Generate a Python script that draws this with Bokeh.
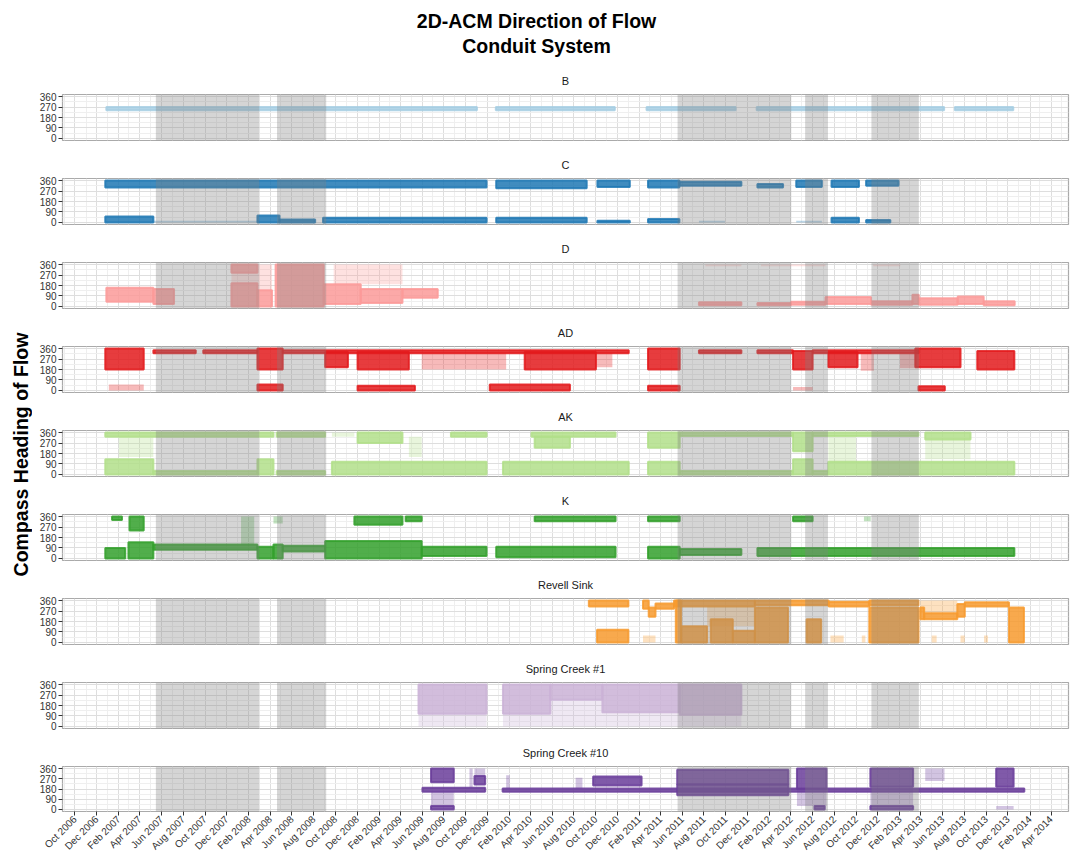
import math
import pandas as pd
from bokeh.plotting import figure
from bokeh.layouts import column, row
from bokeh.models import (ColumnDataSource, FixedTicker, DatetimeTickFormatter,
                          BoxAnnotation, Range1d)
from bokeh.core.properties import value
from bokeh.embed import file_html
from bokeh.resources import INLINE

# ---------------- text ----------------
TITLE_LINES = ["2D-ACM Direction of Flow", "Conduit System"]
Y_LABEL = "Compass Heading of Flow"

# ---------------- axes ----------------
HEADING_TICKS = [0, 90, 180, 270, 360]
HEADING_MINOR = [45, 135, 225, 315]
X_START, X_END = "2006-08-27", "2014-05-20"
Y_START, Y_END = -18, 378
TICK_DATES = pd.date_range("2006-10-01", "2014-04-01", freq="2MS")
MINOR_DATES = [d for d in pd.date_range("2006-09-01", "2014-05-01", freq="MS") if d not in set(TICK_DATES)]

# ---------------- shaded periods ----------------
DRY_START = ["2007-05-16", "2008-04-20", "2011-05-19", "2012-05-11", "2012-11-13"]
DRY_END = ["2008-03-01", "2008-09-05", "2012-04-02", "2012-07-14", "2013-03-26"]

# ---------------- series: (start, end, low heading, high heading) ----------------
B_DENSE = [
    ("2006-12-28", "2009-11-02", 242, 270),
    ("2009-12-25", "2010-11-24", 242, 270),
    ("2011-02-21", "2011-10-29", 242, 270),
    ("2011-12-27", "2013-06-05", 242, 270),
    ("2013-07-05", "2013-12-16", 242, 270),
]
B_SPARSE = []

C_DENSE = [
    ("2006-12-25", "2009-11-29", 300, 360),
    ("2009-12-26", "2010-09-06", 295, 360),
    ("2010-10-06", "2011-01-05", 305, 360),
    ("2011-02-25", "2011-05-24", 300, 360),
    ("2011-05-24", "2011-11-14", 315, 350),
    ("2011-12-29", "2012-03-10", 300, 330),
    ("2012-04-16", "2012-06-27", 305, 360),
    ("2012-07-24", "2012-10-09", 305, 360),
    ("2012-10-29", "2013-01-28", 315, 360),
    ("2006-12-25", "2007-05-09", 0, 50),
    ("2008-02-25", "2008-04-27", 0, 60),
    ("2008-04-27", "2008-08-05", 0, 25),
    ("2008-08-27", "2009-11-29", 0, 40),
    ("2009-12-26", "2010-09-06", 0, 40),
    ("2010-10-06", "2011-01-05", 0, 15),
    ("2011-02-25", "2011-05-24", 0, 30),
    ("2012-07-24", "2012-10-09", 0, 40),
    ("2012-10-29", "2013-01-05", 0, 20),
]
C_SPARSE = [
    ("2007-05-09", "2008-02-25", 0, 15),
    ("2011-07-18", "2011-09-29", 0, 15),
    ("2012-04-16", "2012-06-27", 0, 15),
]

D_DENSE = [
    ("2006-12-28", "2007-05-09", 40, 160),
    ("2007-05-09", "2007-07-06", 20, 150),
    ("2007-12-14", "2008-02-25", 0, 200),
    ("2007-12-14", "2008-02-25", 290, 360),
    ("2008-02-25", "2008-04-06", 0, 140),
    ("2008-04-16", "2008-08-29", 0, 360),
    ("2008-08-29", "2008-12-11", 20, 190),
    ("2008-12-11", "2009-04-07", 30, 150),
    ("2009-04-07", "2009-07-15", 75, 150),
    ("2011-07-18", "2011-11-14", 10, 35),
    ("2011-12-29", "2012-04-01", 10, 30),
    ("2012-04-01", "2012-07-07", 15, 40),
    ("2012-07-07", "2012-11-12", 20, 80),
    ("2012-11-12", "2013-03-08", 15, 45),
    ("2013-03-08", "2013-03-26", 20, 100),
    ("2013-03-26", "2013-07-13", 15, 70),
    ("2013-07-13", "2013-09-24", 20, 85),
    ("2013-09-24", "2013-12-20", 10, 45),
]
D_SPARSE = [
    ("2007-12-14", "2008-02-25", 200, 290),
    ("2008-02-25", "2008-04-06", 140, 360),
    ("2008-09-26", "2009-04-07", 190, 360),
    ("2011-08-05", "2011-11-14", 345, 360),
    ("2012-01-08", "2012-07-07", 345, 360),
    ("2012-11-18", "2013-02-02", 345, 360),
]

AD_DENSE = [
    ("2006-12-25", "2007-04-12", 180, 360),
    ("2007-05-09", "2007-09-05", 320, 345),
    ("2007-09-26", "2008-02-25", 320, 345),
    ("2008-02-25", "2008-05-06", 180, 360),
    ("2008-05-06", "2011-01-02", 320, 345),
    ("2008-09-02", "2008-11-05", 200, 330),
    ("2008-12-02", "2009-04-25", 180, 330),
    ("2010-03-16", "2010-10-02", 180, 330),
    ("2011-02-25", "2011-05-25", 180, 360),
    ("2011-07-18", "2011-11-14", 320, 345),
    ("2011-12-29", "2012-04-07", 320, 345),
    ("2012-04-07", "2012-06-01", 180, 340),
    ("2012-06-01", "2013-03-25", 320, 345),
    ("2012-07-15", "2012-10-05", 200, 330),
    ("2013-03-16", "2013-07-21", 200, 360),
    ("2013-09-06", "2013-12-19", 180, 340),
    ("2008-02-25", "2008-05-06", 0, 50),
    ("2008-12-02", "2009-05-12", 0, 40),
    ("2009-12-08", "2010-07-21", 0, 50),
    ("2011-02-25", "2011-05-25", 0, 40),
    ("2013-03-25", "2013-06-07", 0, 35),
]
AD_SPARSE = [
    ("2007-01-04", "2007-04-12", 0, 50),
    ("2009-05-31", "2010-01-23", 180, 320),
    ("2010-10-02", "2010-11-17", 200, 320),
    ("2012-10-14", "2012-11-20", 170, 320),
    ("2013-02-01", "2013-03-25", 190, 320),
    ("2012-04-07", "2012-06-01", 0, 30),
]

AK_DENSE = [
    ("2006-12-25", "2008-04-10", 325, 360),
    ("2008-04-19", "2008-09-02", 325, 360),
    ("2008-12-02", "2009-04-07", 270, 360),
    ("2009-08-21", "2009-11-29", 325, 360),
    ("2010-04-04", "2010-11-26", 325, 360),
    ("2010-04-13", "2010-07-21", 230, 325),
    ("2011-02-25", "2011-05-25", 230, 360),
    ("2011-05-25", "2012-04-07", 330, 360),
    ("2012-04-07", "2012-06-01", 200, 360),
    ("2012-06-01", "2013-03-25", 330, 360),
    ("2013-04-13", "2013-08-18", 300, 360),
    ("2006-12-25", "2007-05-09", 0, 130),
    ("2007-05-09", "2008-02-25", 0, 30),
    ("2008-02-25", "2008-04-10", 0, 130),
    ("2008-04-19", "2008-09-02", 0, 30),
    ("2008-09-21", "2009-11-29", 0, 110),
    ("2010-01-14", "2011-01-02", 0, 110),
    ("2011-02-25", "2011-05-25", 0, 110),
    ("2011-05-25", "2012-04-07", 0, 30),
    ("2012-04-07", "2012-06-01", 0, 130),
    ("2012-06-01", "2012-07-15", 0, 30),
    ("2012-07-15", "2013-12-19", 0, 110),
]
AK_SPARSE = [
    ("2007-02-01", "2007-05-09", 150, 325),
    ("2008-09-21", "2008-11-23", 325, 360),
    ("2009-04-25", "2009-05-31", 150, 325),
    ("2013-04-13", "2013-08-18", 130, 300),
    ("2012-07-15", "2012-10-01", 110, 330),
]

K_DENSE = [
    ("2006-12-25", "2007-02-19", 0, 90),
    ("2007-01-13", "2007-02-10", 330, 360),
    ("2007-02-28", "2007-05-09", 0, 140),
    ("2007-03-03", "2007-04-12", 240, 360),
    ("2007-05-09", "2008-02-25", 75, 120),
    ("2008-02-25", "2008-04-10", 0, 100),
    ("2008-04-10", "2008-05-06", 0, 120),
    ("2008-05-06", "2008-09-02", 60, 110),
    ("2008-09-02", "2009-05-31", 0, 150),
    ("2008-11-23", "2009-04-07", 290, 360),
    ("2009-04-16", "2009-05-31", 320, 360),
    ("2009-05-31", "2009-11-29", 20, 100),
    ("2009-12-26", "2010-11-26", 10, 100),
    ("2010-04-13", "2010-11-26", 320, 360),
    ("2011-02-25", "2011-05-25", 0, 100),
    ("2011-02-25", "2011-05-25", 320, 360),
    ("2011-05-25", "2011-11-14", 30, 80),
    ("2011-12-29", "2013-12-19", 20, 90),
    ("2012-04-07", "2012-06-01", 320, 360),
]
K_SPARSE = [
    ("2008-01-10", "2008-02-16", 120, 360),
    ("2008-04-10", "2008-05-06", 300, 360),
    ("2012-10-23", "2012-11-11", 320, 360),
]

REVELL_DENSE = [
    ("2010-09-12", "2011-01-01", 310, 360),
    ("2010-10-05", "2011-01-01", 0, 110),
    ("2011-02-11", "2011-02-27", 290, 360),
    ("2011-02-27", "2011-03-18", 220, 300),
    ("2011-03-18", "2011-05-09", 290, 335),
    ("2011-05-09", "2011-12-22", 310, 360),
    ("2011-05-14", "2011-05-29", 0, 360),
    ("2011-05-29", "2011-08-10", 0, 140),
    ("2011-08-20", "2011-10-21", 0, 200),
    ("2011-10-21", "2011-12-22", 0, 100),
    ("2011-12-22", "2012-03-24", 0, 300),
    ("2011-12-22", "2012-07-16", 320, 360),
    ("2012-05-15", "2012-06-25", 0, 200),
    ("2012-07-16", "2012-11-07", 310, 350),
    ("2012-11-07", "2013-03-25", 0, 300),
    ("2012-11-07", "2013-03-25", 320, 360),
    ("2013-03-30", "2013-04-10", 200, 300),
    ("2013-04-10", "2013-07-12", 200, 250),
    ("2013-07-12", "2013-08-02", 220, 330),
    ("2013-08-02", "2013-12-04", 310, 345),
    ("2013-12-04", "2014-01-15", 0, 300),
]
REVELL_SPARSE = [
    ("2011-02-11", "2011-03-18", 0, 60),
    ("2011-08-10", "2011-12-22", 140, 310),
    ("2012-07-21", "2012-08-27", 0, 60),
    ("2012-10-17", "2012-10-27", 0, 60),
    ("2013-03-30", "2013-07-12", 250, 360),
    ("2013-05-01", "2013-05-15", 0, 60),
    ("2013-07-21", "2013-08-02", 0, 60),
    ("2013-09-25", "2013-10-06", 0, 60),
]

SC1_DENSE = [
    ("2009-05-22", "2009-11-29", 110, 360),
    ("2010-01-14", "2010-05-27", 110, 360),
    ("2010-05-27", "2010-10-20", 230, 360),
    ("2010-10-20", "2011-05-25", 120, 360),
    ("2011-05-25", "2011-11-14", 100, 360),
]
SC1_SPARSE = [
    ("2009-05-22", "2009-11-29", 0, 110),
    ("2010-01-14", "2010-05-27", 0, 110),
    ("2010-05-27", "2010-10-20", 0, 230),
    ("2010-10-20", "2011-11-14", 0, 110),
]

SC10_DENSE = [
    ("2009-06-02", "2009-11-25", 155, 190),
    ("2009-06-26", "2009-08-29", 240, 360),
    ("2009-06-26", "2009-08-29", 0, 30),
    ("2009-10-26", "2009-11-25", 220, 295),
    ("2010-01-13", "2014-01-16", 155, 185),
    ("2010-09-24", "2011-02-07", 210, 290),
    ("2011-05-18", "2012-03-25", 220, 350),
    ("2011-05-18", "2012-03-25", 125, 220),
    ("2012-04-18", "2012-07-10", 180, 360),
    ("2012-06-06", "2012-07-05", 0, 30),
    ("2012-11-10", "2013-03-10", 200, 360),
    ("2012-11-10", "2013-03-10", 0, 30),
    ("2013-10-29", "2013-12-17", 200, 360),
]
SC10_SPARSE = [
    ("2009-06-26", "2009-08-29", 30, 155),
    ("2009-10-12", "2009-10-21", 190, 360),
    ("2009-10-26", "2009-11-25", 295, 360),
    ("2010-01-23", "2010-02-02", 185, 300),
    ("2010-08-06", "2010-08-25", 185, 280),
    ("2012-04-18", "2012-07-10", 30, 180),
    ("2012-11-10", "2013-03-10", 30, 200),
    ("2013-04-13", "2013-06-06", 250, 360),
    ("2013-10-29", "2013-12-17", 0, 30),
]

PANELS = [
    ("B", "#A6CEE3", B_DENSE, B_SPARSE),
    ("C", "#1F78B4", C_DENSE, C_SPARSE),
    ("D", "#FB9A99", D_DENSE, D_SPARSE),
    ("AD", "#E31A1C", AD_DENSE, AD_SPARSE),
    ("AK", "#B2DF8A", AK_DENSE, AK_SPARSE),
    ("K", "#33A02C", K_DENSE, K_SPARSE),
    ("Revell Sink", "#F79A2E", REVELL_DENSE, REVELL_SPARSE),
    ("Spring Creek #1", "#CAB2D6", SC1_DENSE, SC1_SPARSE),
    ("Spring Creek #10", "#6A3D9A", SC10_DENSE, SC10_SPARSE),
]

# ---------------- build ----------------
FONT = "Liberation Sans"


def to_ms(d):
    return int(pd.Timestamp(d).value // 10**6)


major_ms = [to_ms(d) for d in TICK_DATES]
minor_ms = [to_ms(d) for d in MINOR_DATES]
x_range = Range1d(start=pd.Timestamp(X_START).to_pydatetime(), end=pd.Timestamp(X_END).to_pydatetime())


def seg_source(segs):
    return ColumnDataSource(dict(
        left=pd.to_datetime([s[0] for s in segs]),
        right=pd.to_datetime([s[1] for s in segs]),
        bottom=[s[2] for s in segs],
        top=[s[3] for s in segs],
    ))


STRIP_W = 32
PANEL_W = 1039
PANEL_H = 84
LAST_H = 124
HEADER_H = 62

panels = []
for i, (name, color, dense, sparse) in enumerate(PANELS):
    last = i == len(PANELS) - 1
    p = figure(width=PANEL_W, height=LAST_H if last else PANEL_H, x_axis_type="datetime", x_range=x_range,
               y_range=Range1d(Y_START, Y_END), output_backend="svg", toolbar_location=None,
               min_border_left=30, min_border_right=3, min_border_top=32,
               min_border_bottom=46 if last else 6, title=name)
    p.title.text_font = FONT
    p.title.text_font_size = "11px"
    p.title.text_font_style = "normal"
    p.title.text_color = "#1a1a1a"
    p.title.align = "center"
    p.title.standoff = 15
    p.background_fill_color = "white"
    p.border_fill_color = "white"
    p.outline_line_color = "#aaaaaa"
    p.outline_line_width = 1.2

    xt = FixedTicker(ticks=major_ms, minor_ticks=minor_ms)
    yt = FixedTicker(ticks=HEADING_TICKS, minor_ticks=HEADING_MINOR)
    p.xaxis.ticker = xt
    p.xgrid.ticker = xt
    p.yaxis.ticker = yt
    p.ygrid.ticker = yt
    for g in (p.xgrid, p.ygrid):
        g.grid_line_color = "#dedede"
        g.grid_line_width = 1
        g.minor_grid_line_color = "#efefef"
        g.minor_grid_line_width = 1

    p.yaxis.axis_line_color = None
    p.yaxis.major_tick_line_color = "#333333"
    p.yaxis.major_tick_out = 4
    p.yaxis.major_tick_in = 0
    p.yaxis.minor_tick_line_color = None
    p.yaxis.major_label_text_font = FONT
    p.yaxis.major_label_text_font_size = "10px"
    p.yaxis.major_label_text_color = "#333333"
    p.yaxis.major_label_standoff = 2

    if last:
        p.xaxis.formatter = DatetimeTickFormatter(days="%b %Y", months="%b %Y", years="%b %Y")
        p.xaxis.major_label_orientation = math.pi / 4
        p.xaxis.axis_line_color = None
        p.xaxis.major_tick_line_color = "#333333"
        p.xaxis.major_tick_out = 4
        p.xaxis.major_tick_in = 0
        p.xaxis.minor_tick_line_color = None
        p.xaxis.major_label_text_font = FONT
        p.xaxis.major_label_text_font_size = "10px"
        p.xaxis.major_label_text_color = "#333333"
        p.xaxis.major_label_standoff = 2
    else:
        p.xaxis.visible = False

    if sparse:
        p.quad(left="left", right="right", bottom="bottom", top="top", source=seg_source(sparse),
               fill_color=color, fill_alpha=0.3, line_color=None)
    p.quad(left="left", right="right", bottom="bottom", top="top", source=seg_source(dense),
           fill_color=color, fill_alpha=0.85, line_color=color, line_alpha=0.85, line_width=2)

    for s, e in zip(DRY_START, DRY_END):
        p.add_layout(BoxAnnotation(left=pd.Timestamp(s).to_pydatetime(), right=pd.Timestamp(e).to_pydatetime(),
                                   fill_color="#7f7f7f", fill_alpha=0.33, line_color=None))
    panels.append(p)

# header with the two-line title
TOTAL_W = STRIP_W + PANEL_W
hdr = figure(width=TOTAL_W, height=HEADER_H, x_range=Range1d(0, TOTAL_W), y_range=Range1d(HEADER_H, 0),
             toolbar_location=None, output_backend="svg", min_border=0, title=None,
             x_axis_location=None, y_axis_location=None, outline_line_color=None)
hdr.grid.visible = False
hdr.text(x=[536, 536], y=[20, 45], text=TITLE_LINES, text_font=value(FONT), text_font_style="bold",
         text_font_size="19.5px", text_align="center", text_baseline="middle", text_color="black")

# left strip with the rotated axis title
STRIP_H = PANEL_H * 8 + LAST_H
ylab = figure(width=STRIP_W, height=STRIP_H, x_range=Range1d(0, STRIP_W), y_range=Range1d(STRIP_H, 0),
              toolbar_location=None, output_backend="svg", min_border=0, title=None,
              x_axis_location=None, y_axis_location=None, outline_line_color=None)
ylab.grid.visible = False
ylab.text(x=[20], y=[392], text=[Y_LABEL], angle=math.pi / 2, text_font=value(FONT),
          text_font_style="bold", text_font_size="19.5px", text_align="center",
          text_baseline="middle", text_color="black")

layout = column(hdr, row(ylab, column(*panels)))
open("out.html", "w").write(file_html(layout, INLINE))
